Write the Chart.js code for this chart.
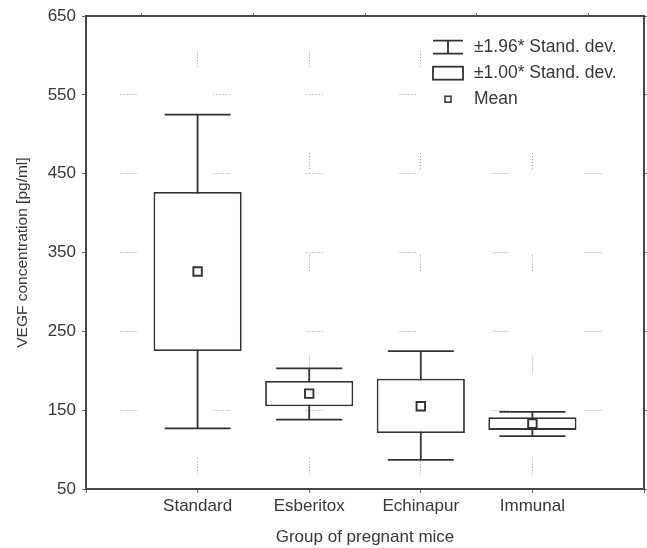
<!DOCTYPE html>
<html><head><meta charset="utf-8">
<script src="https://cdn.jsdelivr.net/npm/chart.js@4"></script>
<style>html,body{margin:0;padding:0;background:#fff}#wrap{width:647px;height:548px;position:relative}</style>
</head><body><div id="wrap"><canvas id="c"></canvas></div>
<script>
// ---- data ----
const categories = ['Standard', 'Esberitox', 'Echinapur', 'Immunal'];
const means = [326, 171, 155, 133];
const sd1Low = [225, 155, 121, 125];
const sd1High = [427, 187, 190, 141];
const sd196Low = [127, 138, 87, 117];
const sd196High = [525, 203, 225, 148];
const yMin = 50, yMax = 650, yStep = 100;
const seriesLabels = ['\u00B11.96* Stand. dev.', '\u00B11.00* Stand. dev.', 'Mean'];
const xTitle = 'Group of pregnant mice';
const yTitle = 'VEGF concentration [pg/ml]';

// ---- styles ----
const FONT = '"Liberation Sans", Arial, Helvetica, sans-serif';
const TXT = '#383838';
const INK = '#333';
const LW = 1.8;
const FRAME = '#474747';
const GRID = '#9a9a9a';
Chart.defaults.font.family = FONT;

const dots = [1,2,1,2,1,2,1,2,1,2,1];
const hDash = dots.concat([77]);     // horizontal grid pattern
const vDash = dots.concat([85.75]);  // vertical grid pattern

const datasets = [];
categories.forEach((c, i) => {
  datasets.push({
    type: 'line', label: seriesLabels[0],
    data: [{x: i + 1, y: sd196Low[i]}, {x: i + 1, y: sd196High[i]}],
    borderColor: INK, borderWidth: LW, pointRadius: 0, order: 4
  });
});
datasets.push({
  type: 'bar', label: seriesLabels[1],
  data: categories.map((c, i) => ({x: i + 1, y: [sd1Low[i], sd1High[i]]})),
  backgroundColor: '#fff', borderColor: INK, borderWidth: LW, borderSkipped: false,
  barPercentage: 0.79, categoryPercentage: 1, order: 3
});
datasets.push({
  type: 'scatter', label: seriesLabels[0] + ' caps',
  data: categories.map((c, i) => ({x: i + 1, y: sd196Low[i]}))
        .concat(categories.map((c, i) => ({x: i + 1, y: sd196High[i]}))),
  pointStyle: 'line', pointRadius: 33, pointBorderColor: INK, pointBorderWidth: LW,
  borderColor: INK, order: 2
});
datasets.push({
  type: 'scatter', label: seriesLabels[2],
  data: means.map((m, i) => ({x: i + 1, y: m})),
  pointStyle: 'rect', pointRadius: 6, pointBackgroundColor: '#fff',
  pointBorderColor: INK, pointBorderWidth: 1.9, order: 1
});

const legendPlugin = {
  id: 'boxLegend',
  afterDraw(chart) {
    const ctx = chart.ctx, a = chart.chartArea;
    ctx.save();
    ctx.fillStyle = '#fff';
    ctx.fillRect(a.right - 218, a.top + 14, 214, 84);
    const sx = a.right - 196, tx = a.right - 170;
    const rows = [a.top + 31, a.top + 57, a.top + 83];
    ctx.strokeStyle = INK; ctx.lineWidth = LW;
    // whisker symbol
    ctx.beginPath();
    ctx.moveTo(sx - 15, rows[0] - 6.5); ctx.lineTo(sx + 15, rows[0] - 6.5);
    ctx.moveTo(sx, rows[0] - 6.5); ctx.lineTo(sx, rows[0] + 6.5);
    ctx.moveTo(sx - 15, rows[0] + 6.5); ctx.lineTo(sx + 15, rows[0] + 6.5);
    ctx.stroke();
    // box symbol
    ctx.strokeRect(sx - 15, rows[1] - 6.5, 30, 13);
    // mean symbol
    ctx.lineWidth = 1.5;
    ctx.strokeRect(sx - 3, rows[2] - 3, 6, 6);
    ctx.fillStyle = TXT;
    ctx.font = '17.5px ' + FONT;
    ctx.textBaseline = 'middle';
    ctx.textAlign = 'left';
    seriesLabels.forEach((t, i) => ctx.fillText(t, tx, rows[i]));
    ctx.restore();
  }
};

new Chart(document.getElementById('c'), {
  type: 'bar',
  data: {datasets},
  plugins: [legendPlugin],
  options: {
    responsive: true, maintainAspectRatio: false, animation: false,
    layout: {padding: 0, autoPadding: false},
    plugins: {legend: {display: false}, tooltip: {enabled: false}},
    scales: {
      x: {
        type: 'linear', position: 'bottom', min: 0, max: categories.length + 1, offset: false,
        ticks: {stepSize: 1, autoSkip: false, maxRotation: 0, padding: 3, color: TXT,
                font: {size: 17}, callback: v => categories[v - 1] || ''},
        grid: {offset: false, color: GRID, lineWidth: 1, tickLength: 4, tickColor: '#666', tickWidth: 1},
        border: {display: true, color: FRAME, width: 2, dash: vDash, dashOffset: 66.75},
        title: {display: true, text: xTitle, color: TXT, font: {size: 17}, padding: {top: 0, bottom: 0}},
        afterFit: s => { s.height = 59; }
      },
      y: {
        type: 'linear', position: 'left', min: yMin, max: yMax, beginAtZero: false,
        ticks: {stepSize: yStep, padding: 6, color: TXT, font: {size: 17}},
        grid: {color: GRID, lineWidth: 1, tickLength: 4, tickColor: '#666', tickWidth: 1},
        border: {display: true, color: FRAME, width: 2, dash: hDash, dashOffset: 59.5},
        title: {display: true, text: yTitle, color: TXT, font: {size: 15.5}, padding: {top: 13, bottom: 0}},
        afterFit: s => { s.width = 86; }
      },
      x2: {
        type: 'linear', position: 'top', min: 0, max: categories.length + 1, offset: false,
        ticks: {display: false, stepSize: 1},
        grid: {drawOnChartArea: false, tickLength: 3, tickColor: '#666'},
        border: {display: true, color: FRAME, width: 2},
        afterFit: s => { s.height = 15; }
      },
      y2: {
        type: 'linear', position: 'right', min: yMin, max: yMax,
        ticks: {display: false, stepSize: yStep},
        grid: {drawOnChartArea: false, tickLength: 3, tickColor: '#666'},
        border: {display: true, color: FRAME, width: 2},
        afterFit: s => { s.width = 3; }
      }
    }
  }
});
</script></body></html>
